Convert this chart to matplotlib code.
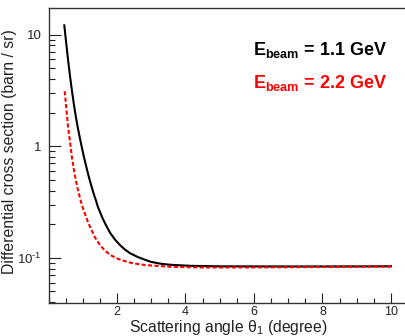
import matplotlib
matplotlib.use("Agg")
import matplotlib.pyplot as plt
from matplotlib.ticker import FixedLocator, LogLocator, NullFormatter, MultipleLocator

plt.rcParams['font.family'] = ['Liberation Sans', 'DejaVu Sans']
plt.rcParams['mathtext.fontset'] = 'custom'
plt.rcParams['mathtext.rm'] = 'Liberation Sans'
plt.rcParams['mathtext.it'] = 'Liberation Sans:italic'
plt.rcParams['mathtext.bf'] = 'Liberation Sans:bold'

# scattering angle (degree) and cross section (barn / sr)
theta_11 = [0.461, 0.511, 0.569, 0.628, 0.686, 0.745, 0.803, 0.861, 0.920, 0.978,
            1.036, 1.095, 1.153, 1.212, 1.270, 1.328, 1.387, 1.445, 1.504, 1.591,
            1.679, 1.796, 1.942, 2.088, 2.234, 2.380, 2.613, 2.964, 3.255, 3.547,
            4.131, 5.0, 6.0, 7.0, 8.0, 9.0, 10.0]
xs_11 = [12.1, 8.71, 6.01, 4.24, 3.11, 2.33, 1.80, 1.435, 1.167, 0.960,
         0.797, 0.670, 0.568, 0.486, 0.421, 0.368, 0.325, 0.2845, 0.2565, 0.222,
         0.196, 0.168, 0.1456, 0.130, 0.1184, 0.110, 0.1014, 0.0925, 0.0887, 0.0867,
         0.0848, 0.0839, 0.0838, 0.0837, 0.0837, 0.0838, 0.0840]

theta_22 = [0.473, 0.511, 0.569, 0.628, 0.686, 0.745, 0.803, 0.861, 0.920, 0.978,
            1.036, 1.095, 1.153, 1.241, 1.358, 1.504, 1.650, 1.796, 1.942, 2.088,
            2.380, 2.672, 2.964, 3.547, 4.423, 5.0, 6.0, 7.0, 8.0, 9.0, 10.0]
xs_22 = [3.11, 2.33, 1.51, 1.086, 0.789, 0.610, 0.486, 0.404, 0.342, 0.296,
         0.262, 0.234, 0.209, 0.181, 0.152, 0.130, 0.1159, 0.1067, 0.1004, 0.0964,
         0.0906, 0.0873, 0.0855, 0.0832, 0.0820, 0.0820, 0.0821, 0.0824, 0.0828, 0.0831, 0.0834]

ytick_labels = ['10$^{\u20101}$', '1', '10']

fig = plt.figure(figsize=(4.06, 3.36), dpi=100)
ax = fig.add_axes([0.1195, 0.099, 0.8805, 0.878])

ax.plot(theta_11, xs_11, color='black', lw=1.5)
ax.plot(theta_22, xs_22, color='red', lw=1.5, dashes=(2.0, 1.1))

ax.set_yscale('log')
ax.set_xlim(0, 10.44)
ax.set_ylim(0.0396, 17.4)

ax.xaxis.set_major_locator(FixedLocator([2, 4, 6, 8, 10]))
ax.xaxis.set_minor_locator(MultipleLocator(0.5))
ax.yaxis.set_major_locator(FixedLocator([0.1, 1, 10]))
ax.yaxis.set_minor_locator(LogLocator(base=10, subs=range(2, 10)))
ax.yaxis.set_minor_formatter(NullFormatter())
ax.set_yticklabels(ytick_labels)

ax.tick_params(axis='both', which='both', direction='in', labelsize=9.5, colors='#222222')
ax.tick_params(axis='y', which='major', length=8.6, width=0.8, pad=5)
ax.tick_params(axis='y', which='minor', length=4, width=0.8)
ax.tick_params(axis='x', which='major', length=7.2, width=0.8, pad=2, labelsize=9)
ax.tick_params(axis='x', which='minor', length=3.6, width=0.8)
ax.tick_params(top=False, right=False, which='both')

for side in ['left', 'bottom', 'top']:
    ax.spines[side].set_linewidth(1.0)
    ax.spines[side].set_color('#333333')
ax.spines['right'].set_visible(False)

fig.text(228 / 406, 4 / 336, 'Scattering angle θ$_1$ (degree)', fontsize=11.3,
         ha='center', va='baseline', color='#222222')
fig.text(10 / 406, 0.548, 'Differential cross section (barn / sr)', fontsize=11.3,
         rotation=90, ha='center', va='center', color='#222222')

fig.text(253 / 406, (336 - 55) / 336, r'E$_{\mathbf{beam}}$ = 1.1 GeV', fontsize=13,
         fontweight='bold', color='black', ha='left', va='baseline')
fig.text(253 / 406, (336 - 88) / 336, r'E$_{\mathbf{beam}}$ = 2.2 GeV', fontsize=13,
         fontweight='bold', color='red', ha='left', va='baseline')

fig.savefig('out.png', dpi=100)
